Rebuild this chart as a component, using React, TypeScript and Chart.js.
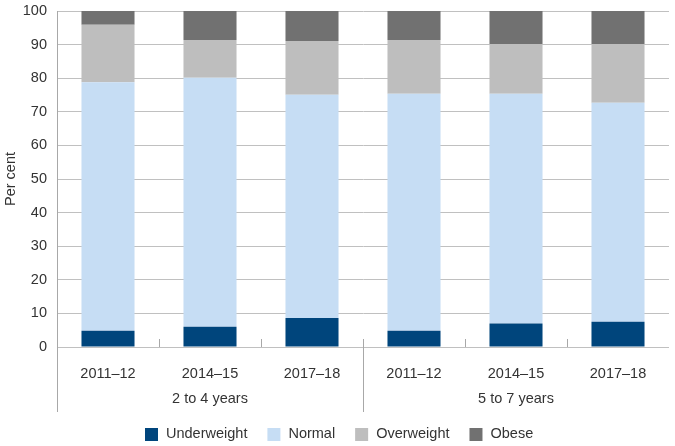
import React, { useEffect, useRef } from "react";
import { Chart, registerables } from "chart.js";

Chart.register(...registerables);

const categories = ["2011–12", "2014–15", "2017–18", "2011–12", "2014–15", "2017–18"];
const groups = ["2 to 4 years", "5 to 7 years"];
const groupSizes = [3, 3];
const underweight = [4.8, 6.0, 8.6, 4.8, 7.0, 7.5];
const normal = [74.0, 74.1, 66.5, 70.6, 68.4, 65.2];
const overweight = [17.1, 11.3, 16.0, 16.0, 14.8, 17.5];
const obese = [4.1, 8.6, 8.9, 8.6, 9.8, 9.8];
const seriesNames = ["Underweight", "Normal", "Overweight", "Obese"];
const seriesColors = ["#00457c", "#c6ddf4", "#bebebe", "#717171"];
const yMin = 0;
const yMax = 100;
const yStep = 10;

const FONT = "'Liberation Sans', Arial, sans-serif";
const FS = 14.5;
const TEXT = "#333333";
const AXIS = "#a8a8a8";

const decorPlugin = {
  id: "decor",
  afterDraw(chart: any) {
    const ctx = chart.ctx;
    const xs = chart.scales.x;
    const ca = chart.chartArea;
    const bottomLine = 412;
    ctx.save();
    ctx.strokeStyle = AXIS;
    ctx.lineWidth = 1;
    const vline = (x: number, y1: number, y2: number) => {
      const px = Math.round(x) + 0.5;
      ctx.beginPath();
      ctx.moveTo(px, y1);
      ctx.lineTo(px, y2);
      ctx.stroke();
    };
    // left axis extension
    vline(ca.left - 0.5, ca.top, bottomLine);
    // category boundaries
    const groupEnds: number[] = [];
    let acc = 0;
    groupSizes.forEach((s) => {
      acc += s;
      groupEnds.push(acc);
    });
    for (let i = 1; i < categories.length; i++) {
      const bx = (xs.getPixelForValue(i - 1) + xs.getPixelForValue(i)) / 2;
      if (groupEnds.includes(i)) {
        vline(bx, ca.bottom - 8, bottomLine);
      } else {
        vline(bx, ca.bottom - 8, ca.bottom);
      }
    }
    // group labels
    ctx.font = `${FS}px ${FONT}`;
    ctx.fillStyle = TEXT;
    ctx.textAlign = "center";
    ctx.textBaseline = "middle";
    let start = 0;
    groups.forEach((g, gi) => {
      const end = start + groupSizes[gi] - 1;
      const cx = (xs.getPixelForValue(start) + xs.getPixelForValue(end)) / 2;
      ctx.fillText(g, cx, 399);
      start += groupSizes[gi];
    });
    // legend
    const box = 13;
    const gap = 8;
    const itemGap = 20;
    ctx.textAlign = "left";
    const widths = chart.data.datasets.map((d: any) => box + gap + ctx.measureText(d.label).width);
    const total = widths.reduce((a: number, b: number) => a + b, 0) + itemGap * (widths.length - 1);
    let lx = Math.round(chart.width / 2 - total / 2 + 2);
    const ly = 434;
    chart.data.datasets.forEach((d: any, i: number) => {
      ctx.fillStyle = d.backgroundColor;
      ctx.fillRect(lx, ly - 6, box, box);
      ctx.fillStyle = TEXT;
      ctx.fillText(d.label, lx + box + gap, ly);
      lx += widths[i] + itemGap;
    });
    ctx.restore();
  },
};

export default function App() {
  const ref = useRef<HTMLCanvasElement | null>(null);
  useEffect(() => {
    if (!ref.current) return;
    const values = [underweight, normal, overweight, obese];
    const chart = new Chart(ref.current, {
      type: "bar",
      data: {
        labels: categories,
        datasets: seriesNames.map((name, i) => ({
          label: name,
          data: values[i],
          backgroundColor: seriesColors[i],
          borderWidth: 0,
          categoryPercentage: 1,
          barPercentage: 0.52,
        })),
      },
      options: {
        responsive: false,
        animation: false,
        layout: { padding: { top: 11, right: 6, left: 0, bottom: 0 } },
        plugins: {
          legend: { display: false },
          tooltip: { enabled: false },
        },
        scales: {
          x: {
            stacked: true,
            grid: { display: false, drawTicks: false },
            border: { display: false },
            ticks: {
              color: TEXT,
              font: { family: FONT, size: FS },
              padding: 18,
              maxRotation: 0,
              autoSkip: false,
            },
            afterFit: (s: any) => {
              s.height = 99;
              s.paddingLeft = 0;
              s.paddingRight = 0;
            },
          },
          y: {
            stacked: true,
            min: yMin,
            max: yMax,
            grid: { color: "#c0c0c0", drawTicks: false },
            border: { display: true, color: AXIS },
            ticks: {
              stepSize: yStep,
              color: TEXT,
              font: { family: FONT, size: FS },
              padding: 10,
            },
            title: {
              display: true,
              text: "Per cent",
              color: TEXT,
              font: { family: FONT, size: FS },
              padding: { top: 2, bottom: 0 },
            },
            afterFit: (s: any) => {
              s.width = 57;
              s.paddingTop = 0;
              s.paddingBottom = 0;
            },
          },
        },
      },
      plugins: [decorPlugin],
    });
    return () => chart.destroy();
  }, []);
  return (
    <div style={{ position: "absolute", left: 0, top: 0, width: 675, height: 446, background: "#fff" }}>
      <canvas ref={ref} width={675} height={446} style={{ display: "block" }} />
    </div>
  );
}
